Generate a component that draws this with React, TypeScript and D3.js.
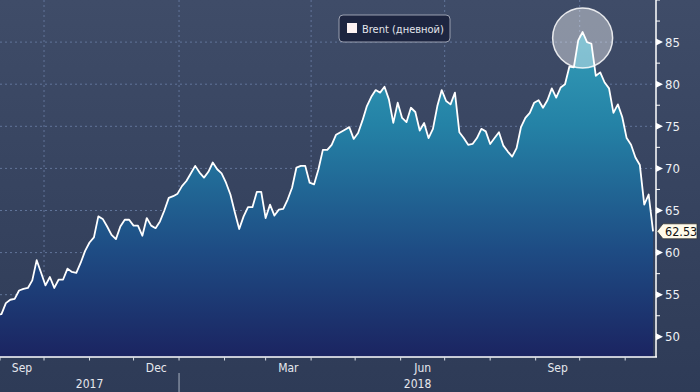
import React from "react";
import * as d3 from "d3";

const width = 700;
const height = 392;
const plotRight = 656;
const plotBottom = 357;

// Brent daily close, sampled every 3 calendar days from 30 Aug 2017 (last = 20 Nov 2018)
const startDate = new Date(2017, 7, 30);
const stepDays = 3;
const brent = [
  52.6, 52.7, 54.0, 54.4, 54.5, 55.5, 55.7, 55.8, 56.7, 59.1,
  57.6, 56.1, 57.1, 55.8, 56.8, 56.8, 58.1, 57.7, 57.6, 58.8,
  60.2, 61.2, 61.8, 64.3, 64.0, 63.1, 62.1, 61.6, 63.1, 63.9,
  63.9, 63.2, 63.2, 62.0, 64.1, 63.2, 62.9, 63.7, 65.0, 66.5,
  66.7, 67.0, 67.9, 68.5, 69.4, 70.3, 69.5, 68.9, 69.6, 70.7,
  69.9, 69.4, 68.3, 66.9, 64.8, 62.8, 64.3, 65.4, 65.4, 67.2,
  67.2, 64.1, 65.7, 64.4, 65.1, 65.2, 66.3, 67.7, 70.1, 70.3,
  70.3, 68.3, 68.1, 69.9, 72.2, 72.2, 72.8, 74.0, 74.3, 74.6,
  74.9, 73.5, 74.2, 75.7, 77.4, 78.5, 79.3, 79.0, 79.7, 78.2,
  75.4, 77.8, 76.0, 75.5, 77.2, 76.7, 74.5, 75.4, 73.6, 74.7,
  77.4, 79.3, 78.0, 77.6, 79.0, 74.3, 73.6, 72.8, 72.9, 73.6,
  74.7, 74.4, 72.9, 73.6, 74.3, 72.7, 72.0, 71.4, 72.4, 74.9,
  76.0, 76.6, 77.8, 78.1, 77.2, 78.1, 79.5, 78.4, 79.6, 80.0,
  82.1, 82.0, 85.2, 86.2, 85.0, 84.8, 81.0, 81.4, 80.2, 79.5,
  76.6, 77.6, 76.1, 73.6, 72.8, 71.3, 70.4, 65.7, 66.9, 62.53,
];
const lastLabel = "62.53";
const seriesName = "Brent (дневной)";

const yTicks = [50, 55, 60, 65, 70, 75, 80, 85];
const yMinorTicks = [52.5, 57.5, 62.5, 67.5, 72.5, 77.5, 82.5, 87.5, 90];
const monthLabels = ["Sep", "Dec", "Mar", "Jun", "Sep"];
const monthLabelStarts = [
  new Date(2017, 8, 1),
  new Date(2017, 11, 1),
  new Date(2018, 2, 1),
  new Date(2018, 5, 1),
  new Date(2018, 8, 1),
];
const yearLabels = ["2017", "2018"];

const font = "'DejaVu Sans Condensed', 'Liberation Sans Narrow', sans-serif";

const data = brent.map((v, i) => ({
  date: d3.timeDay.offset(startDate, i * stepDays),
  value: v,
}));

const x = d3
  .scaleTime()
  .domain([new Date(2017, 8, 1), new Date(2018, 10, 22)])
  .range([0, plotRight]);
const y = d3.scaleLinear().domain([47.6, 90]).range([plotBottom, 0]);

const line = d3
  .line<{ date: Date; value: number }>()
  .x(d => x(d.date))
  .y(d => y(d.value));
const area = d3
  .area<{ date: Date; value: number }>()
  .x(d => x(d.date))
  .y0(plotBottom)
  .y1(d => y(d.value));

export default function App() {
  const monthTicks = x.ticks(d3.timeMonth.every(1)!);
  const quarterTicks = x.ticks(d3.timeMonth.every(3)!);
  const last = data[data.length - 1];
  const peak = data.reduce((a, b) => (b.value > a.value ? b : a));
  const yearStart = new Date(2018, 0, 1);
  const ly = y(last.value);

  return (
    <svg
      width={width}
      height={height}
      style={{ position: "absolute", left: 0, top: 0, fontFamily: font }}
    >
      <defs>
        <linearGradient id="bg" x1="0" y1="0" x2="0" y2="1">
          <stop offset="0" stopColor="#3f4c68" />
          <stop offset="1" stopColor="#2e3b57" />
        </linearGradient>
        <linearGradient
          id="fill"
          gradientUnits="userSpaceOnUse"
          x1="0"
          y1="0"
          x2="0"
          y2={plotBottom}
        >
          <stop offset="0" stopColor="#3aa7be" />
          <stop offset="0.35" stopColor="#2482a6" />
          <stop offset="0.7" stopColor="#1e4c84" />
          <stop offset="1" stopColor="#1b2461" />
        </linearGradient>
        <clipPath id="plot">
          <rect x={0} y={0} width={plotRight} height={plotBottom} />
        </clipPath>
      </defs>
      <rect width={width} height={height} fill="url(#bg)" />

      {/* grid */}
      {yTicks.map(t => (
        <line
          key={"gy" + t}
          x1={0}
          x2={plotRight}
          y1={y(t)}
          y2={y(t)}
          stroke="#62759a"
          strokeDasharray="2,3"
        />
      ))}
      {quarterTicks.map((t, i) => (
        <line
          key={"gx" + i}
          x1={x(t)}
          x2={x(t)}
          y1={0}
          y2={plotBottom}
          stroke="#62759a"
          strokeDasharray="2,3"
        />
      ))}

      <g clipPath="url(#plot)">
        <path d={area(data)!} fill="url(#fill)" />
        <path
          d={line(data)!}
          fill="none"
          stroke="#ffffff"
          strokeWidth={1.8}
          strokeLinejoin="round"
        />
        <circle
          cx={x(peak.date)}
          cy={y(peak.value) + 6}
          r={30}
          fill="#ffffff"
          fillOpacity={0.4}
          stroke="#ffffff"
          strokeOpacity={0.85}
          strokeWidth={1.5}
        />
      </g>

      {/* axes */}
      <line x1={0} x2={plotRight + 1} y1={plotBottom} y2={plotBottom} stroke="#fff" strokeWidth={1.5} />
      <line x1={plotRight} x2={plotRight} y1={0} y2={plotBottom} stroke="#fff" strokeWidth={1.5} />

      {monthTicks.map((t, i) => (
        <line
          key={"mt" + i}
          x1={x(t)}
          x2={x(t)}
          y1={plotBottom}
          y2={plotBottom + 3.5}
          stroke="#d8dce4"
        />
      ))}
      <line
        x1={x(yearStart)}
        x2={x(yearStart)}
        y1={plotBottom + 16}
        y2={height}
        stroke="#aab2c2"
      />
      {monthLabels.map((m, i) => {
        const s = monthLabelStarts[i];
        const cx = (x(s) + x(d3.timeMonth.offset(s, 1))) / 2;
        return (
          <text key={"ml" + i} x={cx} y={plotBottom + 15} fill="#e6e8ee" fontSize={12} textAnchor="middle">
            {m}
          </text>
        );
      })}
      {yearLabels.map((yl, i) => {
        const cx = i === 0 ? x(yearStart) / 2 : (x(yearStart) + plotRight) / 2;
        return (
          <text key={"yl" + i} x={cx} y={plotBottom + 31} fill="#e6e8ee" fontSize={12} textAnchor="middle">
            {yl}
          </text>
        );
      })}

      {yMinorTicks.map(t => (
        <line
          key={"ym" + t}
          x1={plotRight}
          x2={plotRight + 4}
          y1={y(t)}
          y2={y(t)}
          stroke="#fff"
        />
      ))}
      {yTicks.map(t => (
        <g key={"yt" + t} transform={`translate(${plotRight},${y(t)})`}>
          <path d="M0,-3.5L7,0L0,3.5Z" fill="#fff" />
          <text x={9} y={4.5} fill="#eef0f4" fontSize={13}>
            {t}
          </text>
        </g>
      ))}

      {/* last value tag */}
      <g transform={`translate(${plotRight + 1},${ly})`}>
        <path d="M0,0L6,-7.5H40V7.5H6Z" fill="#fffaea" stroke="#333" strokeWidth={0.8} />
        <text x={8} y={4.5} fill="#111" fontSize={12.5}>
          {lastLabel}
        </text>
      </g>

      {/* legend */}
      <g transform="translate(339,15)">
        <rect width={111} height={27} rx={4} fill="#1d2540" stroke="#9aa0b0" strokeWidth={1} />
        <rect x={8} y={8} width={10} height={10} fill="#fdf3f3" />
        <text x={23} y={18} fill="#e4e6ec" fontSize={11}>
          {seriesName}
        </text>
      </g>
    </svg>
  );
}
